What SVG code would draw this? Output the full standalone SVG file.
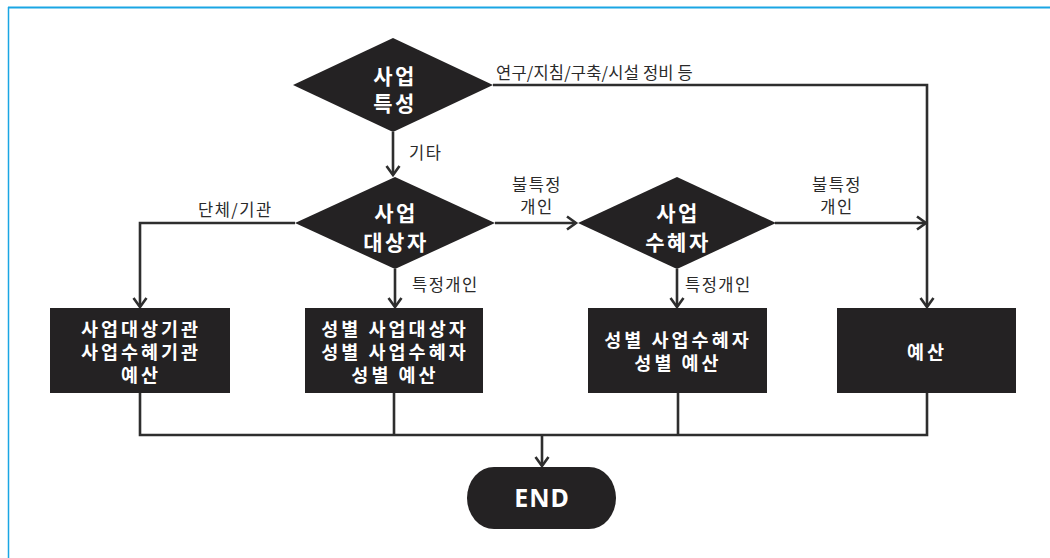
<svg xmlns="http://www.w3.org/2000/svg" width="1050" height="558" viewBox="0 0 1050 558">
<style>
.shape{fill:#242223;}
.ntext{fill:#ffffff;font-family:"Noto Sans CJK KR","Noto Sans",sans-serif;font-weight:bold;text-anchor:middle;}
.dtext{font-size:21px;letter-spacing:2.5px;}
.btext{font-size:18.5px;letter-spacing:3px;}
.lbl{fill:#2a2a2a;font-family:"Noto Sans CJK KR","Noto Sans",sans-serif;font-size:16.5px;letter-spacing:1.5px;}
.conn{fill:none;stroke:#2e2e2e;stroke-width:2.6;stroke-linejoin:miter;}
.frame{stroke:#1aa6e4;fill:none;}
</style>
<defs>
<marker id="arr" markerUnits="userSpaceOnUse" markerWidth="16" markerHeight="16" refX="11" refY="8" orient="auto">
<path d="M2,1.5 L11,8 L2,14.5" fill="none" stroke="#2e2e2e" stroke-width="2.6"/>
</marker>
</defs>
<rect x="0" y="0" width="1050" height="558" fill="#ffffff"/>
<line class="frame" x1="8" y1="7.5" x2="1050" y2="7.5" stroke-width="2"/>
<line class="frame" x1="8.5" y1="7" x2="8.5" y2="558" stroke-width="1.5"/>

<g id="connectors">
<path class="conn" d="M393,132 V175" marker-end="url(#arr)"/>
<path class="conn" d="M493,85 H927 V307" marker-end="url(#arr)"/>
<path class="conn" d="M295,223 H140 V307" marker-end="url(#arr)"/>
<path class="conn" d="M395,269 V307" marker-end="url(#arr)"/>
<path class="conn" d="M495,223 H576" marker-end="url(#arr)"/>
<path class="conn" d="M677,269 V307" marker-end="url(#arr)"/>
<path class="conn" d="M775,223 H926" marker-end="url(#arr)"/>
<path class="conn" d="M140,393 V435 H927 V393"/>
<path class="conn" d="M394,393 V435"/>
<path class="conn" d="M678,393 V435"/>
<path class="conn" d="M542,435 V466" marker-end="url(#arr)"/>
<text class="lbl" x="409" y="159">기타</text>
<text class="lbl" x="496" y="79" style="letter-spacing:0.2px">연구/지침/구축/시설 정비 등</text>
<text class="lbl" x="198" y="216">단체/기관</text>
<text class="lbl" x="412" y="291">특정개인</text>
<text class="lbl" x="537" text-anchor="middle"><tspan x="537" y="191">불특정</tspan><tspan x="537" y="213">개인</tspan></text>
<text class="lbl" x="685" y="291">특정개인</text>
<text class="lbl" x="837" text-anchor="middle"><tspan x="837" y="191">불특정</tspan><tspan x="837" y="213">개인</tspan></text>
</g>

<g id="d1">
<polygon class="shape" points="393,38 493,85 393,132 293,85"/>
<text class="ntext dtext"><tspan x="395" y="84">사업</tspan><tspan x="395" y="111">특성</tspan></text>
</g>
<g id="d2">
<polygon class="shape" points="395,177 495,223 395,269 295,223"/>
<text class="ntext dtext"><tspan x="396" y="221">사업</tspan><tspan x="396" y="250">대상자</tspan></text>
</g>
<g id="d3">
<polygon class="shape" points="677,177 776,223 677,269 578,223"/>
<text class="ntext dtext"><tspan x="678" y="221">사업</tspan><tspan x="678" y="250">수혜자</tspan></text>
</g>
<g id="b1">
<rect class="shape" x="50" y="308" width="180" height="85"/>
<text class="ntext btext"><tspan x="141" y="336">사업대상기관</tspan><tspan x="141" y="359">사업수혜기관</tspan><tspan x="141" y="382">예산</tspan></text>
</g>
<g id="b2">
<rect class="shape" x="305" y="308" width="178" height="85"/>
<text class="ntext btext"><tspan x="395" y="336">성별 사업대상자</tspan><tspan x="395" y="359">성별 사업수혜자</tspan><tspan x="395" y="382">성별 예산</tspan></text>
</g>
<g id="b3">
<rect class="shape" x="588" y="308" width="179" height="85"/>
<text class="ntext btext"><tspan x="678" y="347">성별 사업수혜자</tspan><tspan x="678" y="370">성별 예산</tspan></text>
</g>
<g id="b4">
<rect class="shape" x="837" y="308" width="179" height="85"/>
<text class="ntext btext" x="927" y="359">예산</text>
</g>
<g id="end">
<rect class="shape" x="467" y="467" width="149" height="62" rx="27" ry="31"/>
<text class="ntext" x="542" y="507" style="font-family:'Noto Sans','Open Sans',sans-serif;font-size:25px;letter-spacing:1px;">END</text>
</g>
</svg>
